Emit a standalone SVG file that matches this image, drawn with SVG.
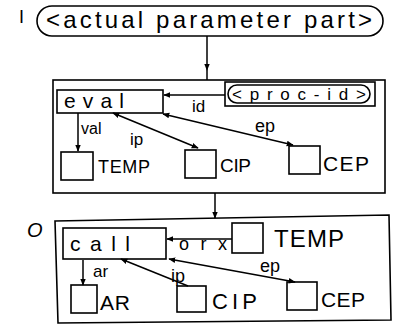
<svg xmlns="http://www.w3.org/2000/svg" width="398" height="327" viewBox="0 0 398 327">
<defs>
<marker id="ah" viewBox="0 0 10 10" refX="9" refY="5" markerWidth="7" markerHeight="7" orient="auto-start-reverse" markerUnits="userSpaceOnUse">
<path d="M0,1 L10,5 L0,9 Z" fill="#000"/>
</marker>
<style>
.b{fill:#fff;stroke:#000;stroke-width:1.6}
.n{fill:none;stroke:#000;stroke-width:1.6}
.c{fill:none;stroke:#000;stroke-width:1.5}
.t{font-family:"Liberation Sans",Arial,sans-serif;fill:#000}
</style>
</defs>
<rect width="398" height="327" fill="#fff"/>
<text class="t" x="19" y="23" font-size="18" font-family="Liberation Serif, serif">I</text>
<text class="t" x="27" y="237" font-size="20" font-style="italic">O</text>
<g id="title">
<rect class="b" x="37" y="6" width="346" height="30" rx="15"/>
<text class="t" x="46" y="28" font-size="24" textLength="326" lengthAdjust="spacing">&lt;actual parameter part&gt;</text>
</g>
<g id="box1">
<rect class="n" x="53" y="80" width="332" height="113"/>
</g>
<g id="procid">
<rect class="n" x="225" y="82" width="150" height="24"/>
<rect class="n" x="228" y="85" width="142" height="18" rx="9"/>
<text class="t" x="232" y="100" font-size="17" textLength="134" lengthAdjust="spacing">&lt;proc-id&gt;</text>
</g>
<g id="eval">
<rect class="b" x="57" y="90" width="106" height="23"/>
<text class="t" x="64" y="108" font-size="21" textLength="60" lengthAdjust="spacing">eval</text>
</g>
<g id="temp1">
<rect class="b" x="61" y="152" width="32" height="28"/>
<text class="t" x="98" y="173" font-size="18" textLength="52" lengthAdjust="spacing">TEMP</text>
</g>
<g id="cip1">
<rect class="b" x="185" y="150" width="31" height="28"/>
<text class="t" x="220" y="172" font-size="19" textLength="31" lengthAdjust="spacing">CIP</text>
</g>
<g id="cep1">
<rect class="b" x="289" y="146" width="31" height="28"/>
<text class="t" x="323" y="171" font-size="21" textLength="46" lengthAdjust="spacing">CEP</text>
</g>
<g id="box2">
<path class="n" d="M55,221 L389,215 L391,320 L58,323 Z"/>
</g>
<g id="call">
<rect class="b" x="63" y="228" width="103" height="31"/>
<text class="t" x="70" y="251" font-size="21" textLength="60" lengthAdjust="spacing">call</text>
</g>
<g id="temp2">
<rect class="b" x="232" y="223" width="31" height="30"/>
<text class="t" x="274" y="247" font-size="24" textLength="70" lengthAdjust="spacing">TEMP</text>
</g>
<g id="ar">
<rect class="b" x="71" y="285" width="26" height="28"/>
<text class="t" x="100" y="310" font-size="21" textLength="30" lengthAdjust="spacing">AR</text>
</g>
<g id="cip2">
<rect class="b" x="177" y="286" width="29" height="26"/>
<text class="t" x="212" y="309" font-size="22" textLength="45" lengthAdjust="spacing">CIP</text>
</g>
<g id="cep2">
<rect class="b" x="287" y="282" width="30" height="28"/>
<text class="t" x="321" y="307" font-size="21" textLength="44" lengthAdjust="spacing">CEP</text>
</g>
<g id="connectors">
<path class="c" d="M207,36 L207,70 L207,80" marker-mid="url(#ah)"/>
<path class="c" d="M225,95 L164,95" marker-end="url(#ah)"/>
<path class="c" d="M78,113 L78,151" marker-end="url(#ah)"/>
<path class="c" d="M113,113 L198,148" marker-start="url(#ah)" marker-end="url(#ah)"/>
<path class="c" d="M163,114 L293,145" marker-start="url(#ah)" marker-end="url(#ah)"/>
<path class="c" d="M215,193 L215,218" marker-end="url(#ah)"/>
<path class="c" d="M232,239 L167,239" marker-end="url(#ah)"/>
<path class="c" d="M83,260 L83,285" marker-end="url(#ah)"/>
<path class="c" d="M188,286 L121,259" marker-end="url(#ah)"/>
<path class="c" d="M169,259 L295,282" marker-start="url(#ah)" marker-end="url(#ah)"/>
</g>
<g id="labels">
<text class="t" x="192" y="112" font-size="17">id</text>
<text class="t" x="81" y="134" font-size="16">val</text>
<text class="t" x="130" y="145" font-size="17">ip</text>
<text class="t" x="255" y="132" font-size="18">ep</text>
<text class="t" x="179" y="250" font-size="18" textLength="48" lengthAdjust="spacing">orx</text>
<text class="t" x="93" y="277" font-size="17">ar</text>
<text class="t" x="171" y="282" font-size="18">ip</text>
<text class="t" x="260" y="272" font-size="18">ep</text>
</g>
</svg>
